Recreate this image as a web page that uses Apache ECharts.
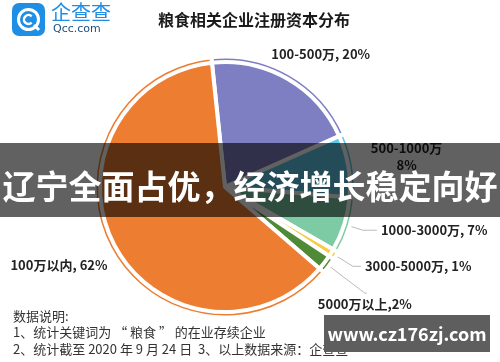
<!DOCTYPE html>
<html><head><meta charset="utf-8">
<script src="https://cdn.jsdelivr.net/npm/echarts@6/dist/echarts.min.js"></script>
<style>html,body{margin:0;padding:0;background:#fff}#c{width:500px;height:362px}</style>
</head><body><div id="c"></div>
<script>
// ---- data ----
const categories = ['100-500万', '500-1000万', '1000-3000万', '3000-5000万', '5000万以上', '100万以内'];
const shares = [20, 8, 7, 1, 2, 62];
const labelSeparators = [', ', '\n', ', ', ', ', ',', ', '];
const titleText = '粮食相关企业注册资本分布';
const noteLines = ['数据说明:', '1、统计关键词为 “ 粮食 ” 的在业存续企业', '2、统计截至 2020 年 9 月 24 日  3、以上数据来源：企查查'];
const bannerText = '辽宁全面占优，经济增长稳定向好';
const watermarkText = 'www.cz176zj.com';

// ---- styles ----
const palette = ['#7e7fc3', '#5ec8e6', '#7ccba4', '#f7cb45', '#4f8a36', '#ed7d31'];
const FONT = '"Noto Sans CJK SC", "Noto Sans", sans-serif';
const lineLen = [10, 8, 14, 20, 45, 10];
const lineLen2 = [0, 8, 14, 8, 2, 0];
const showLine = [false, false, true, true, true, false];
const labelShift = {0: [-28, -11], 1: [-5, -7], 4: [-53, 11], 5: [11, 13]};

const chart = echarts.init(document.getElementById('c'), null, {renderer: 'canvas'});

const outerData = categories.map((name, i) => ({
  name, value: shares[i],
  itemStyle: {color: palette[i]},
  label: {
    formatter: i === 1 ? '{a|' + name + '}\n{a|' + shares[i] + '%}' : name + labelSeparators[i] + shares[i] + '%'
  },
  labelLine: {show: showLine[i], length: lineLen[i], length2: lineLen2[i]}
}));
const innerData = categories.map((name, i) => ({name, value: shares[i], itemStyle: {color: palette[i]}}));

const option = {
  animation: false,
  backgroundColor: '#fff',
  title: {
    text: titleText, left: 249, top: 7, textAlign: 'center',
    textStyle: {fontFamily: FONT, fontSize: 16, fontWeight: 'bold', color: '#1a1a1a'}
  },
  series: [
    {
      type: 'pie', center: [225, 187], radius: [0, 130.5], startAngle: 96, clockwise: true,
      avoidLabelOverlap: false,
      itemStyle: {borderColor: '#fff', borderWidth: 4},
      emphasis: {disabled: true},
      label: {
        show: true, position: 'outside', fontFamily: FONT, fontSize: 13, fontWeight: 'bold', color: '#222',
        distanceToLabelLine: 4,
        rich: {a: {width: 76, align: 'center', fontFamily: FONT, fontSize: 13, fontWeight: 'bold', color: '#222', lineHeight: 17}}
      },
      labelLine: {lineStyle: {color: '#bbb', width: 1}, smooth: false},
      labelLayout: function (p) {
        const d = labelShift[p.dataIndex];
        return d ? {dx: d[0], dy: d[1]} : {};
      },
      data: outerData
    },
    {
      type: 'pie', center: [225, 187], radius: [0, 125], startAngle: 96, clockwise: true,
      silent: true,
      itemStyle: {borderColor: '#fff', borderWidth: 4},
      emphasis: {disabled: true},
      label: {show: false}, labelLine: {show: false},
      data: innerData
    }
  ],
  graphic: [
    // logo
    {type: 'rect', left: 12, top: 3, shape: {width: 33, height: 33, r: 7}, style: {fill: '#1f8fe6'}},
    {type: 'circle', shape: {cx: 28.5, cy: 19.5, r: 10}, style: {fill: 'none', stroke: '#fff', lineWidth: 3}},
    {type: 'arc', shape: {cx: 28.5, cy: 19.5, r: 4.5, startAngle: 0.8, endAngle: 5.5}, style: {fill: 'none', stroke: '#fff', lineWidth: 2.5}},
    {type: 'line', shape: {x1: 34, y1: 25, x2: 39, y2: 30}, style: {stroke: '#fff', lineWidth: 3}},
    {type: 'text', left: 51, top: 2, style: {text: '企查查', fontFamily: FONT, fontSize: 20, fill: '#1f8fe6', letterSpacing: 1}},
    {type: 'text', left: 53, top: 24, style: {text: 'Qcc.com', fontFamily: '"DejaVu Sans", sans-serif', fontSize: 11, fill: '#1d4f86', letterSpacing: 3.5}},
    // notes
    {type: 'text', left: 13, top: 310, style: {text: noteLines[0], fontFamily: FONT, fontSize: 13, fill: '#333'}},
    {type: 'text', left: 13, top: 326, style: {text: noteLines[1], fontFamily: FONT, fontSize: 13, fill: '#333'}},
    {type: 'text', left: 13, top: 343, style: {text: noteLines[2], fontFamily: FONT, fontSize: 13, fill: '#333'}},
    // banner
    {type: 'rect', left: 0, top: 143, z: 100, shape: {width: 500, height: 74}, style: {fill: 'rgba(0,0,0,0.62)'}},
    {type: 'text', x: 250, y: 186, z: 101, style: {text: bannerText, fontFamily: FONT, fontSize: 33, fontWeight: 'bold', fill: '#fff', align: 'center', verticalAlign: 'middle'}},
    // watermark
    {type: 'rect', left: 324, top: 315, z: 100, shape: {width: 166, height: 37}, style: {fill: '#5e5e5e'}},
    {type: 'text', x: 407, y: 334, z: 101, style: {text: watermarkText, fontFamily: FONT, fontSize: 18, fontWeight: 'bold', fill: '#fff', align: 'center', verticalAlign: 'middle'}}
  ]
};
chart.setOption(option);
</script></body></html>
